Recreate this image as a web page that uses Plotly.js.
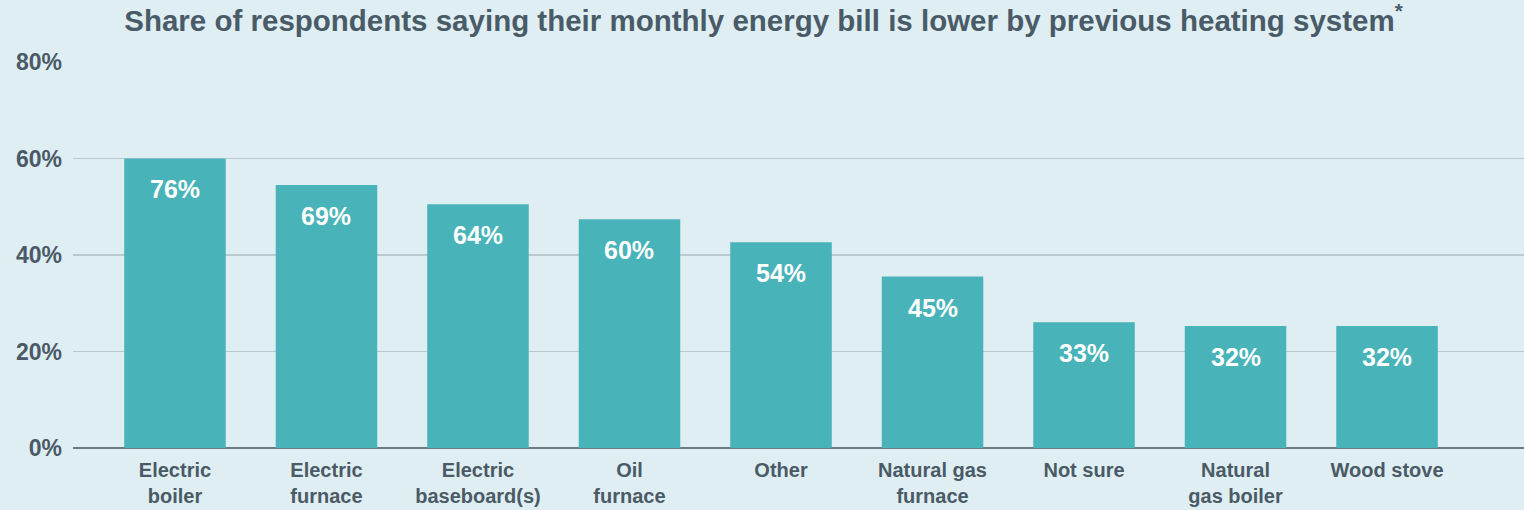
<!DOCTYPE html>
<html>
<head>
<meta charset="utf-8">
<script src="https://cdn.plot.ly/plotly-3.0.1.min.js"></script>
<style>html,body{margin:0;padding:0;background:#dfeef3;}#chart{width:1524px;height:510px;}</style>
</head>
<body>
<div id="chart"></div>
<script>
const categories = ["Electric<br>boiler","Electric<br>furnace","Electric<br>baseboard(s)","Oil<br>furnace","Other","Natural gas<br>furnace","Not sure","Natural<br>gas boiler","Wood stove"];
const values = [76, 69, 64, 60, 54, 45, 33, 32, 32];
const barLabels = ["76%","69%","64%","60%","54%","45%","33%","32%","32%"];
const yTickText = ["0%","20%","40%","60%","80%"];

const yTop = 101.3;
const yTickVals = yTickText.map((t, i) => yTop * i / (yTickText.length - 1));
const xIdx = categories.map((c, i) => i);

const textColor = "#4a5a66";
const fontMain = "Liberation Sans, Arial, sans-serif";

const trace = {
  type: "bar",
  x: xIdx,
  y: values,
  marker: {color: "#48b3b8"},
  width: 0.67,
  hoverinfo: "none"
};

const annotations = xIdx.map((x, i) => ({
  x: x, y: values[i], xref: "x", yref: "y",
  text: barLabels[i], showarrow: false,
  yanchor: "top", yshift: -15,
  font: {family: fontMain, size: 25, color: "#ffffff", weight: "bold"}
}));

const layout = {
  width: 1524, height: 510,
  paper_bgcolor: "#dfeef3", plot_bgcolor: "#dfeef3",
  margin: {l: 73, r: 0, t: 62, b: 62},
  title: {
    text: "Share of respondents saying their monthly energy bill is lower by previous heating system<sup>*</sup>",
    x: 0.501, xanchor: "center", y: 0.96, yanchor: "middle",
    font: {family: fontMain, size: 29.5, color: "#4a5b68", weight: "bold"}
  },
  showlegend: false,
  bargap: 0.33,
  xaxis: {
    range: [-0.673, 8.904],
    tickmode: "array", tickvals: xIdx, ticktext: categories,
    showgrid: false, zeroline: false, showline: false, ticks: "",
    ticklabelstandoff: 8,
    tickfont: {family: fontMain, size: 20, color: textColor, weight: "bold"},
    fixedrange: true
  },
  yaxis: {
    range: [0, yTop],
    tickmode: "array", tickvals: yTickVals, ticktext: yTickText,
    showgrid: true, gridcolor: "#b8c9cf", gridwidth: 1.5,
    zeroline: true, zerolinecolor: "#6a7b84", zerolinewidth: 2,
    showline: false, ticks: "",
    ticklabelstandoff: 10,
    tickfont: {family: fontMain, size: 23, color: textColor, weight: "bold"},
    fixedrange: true
  },
  annotations: annotations
};

Plotly.newPlot("chart", [trace], layout, {displayModeBar: false, staticPlot: true});
</script>
</body>
</html>
